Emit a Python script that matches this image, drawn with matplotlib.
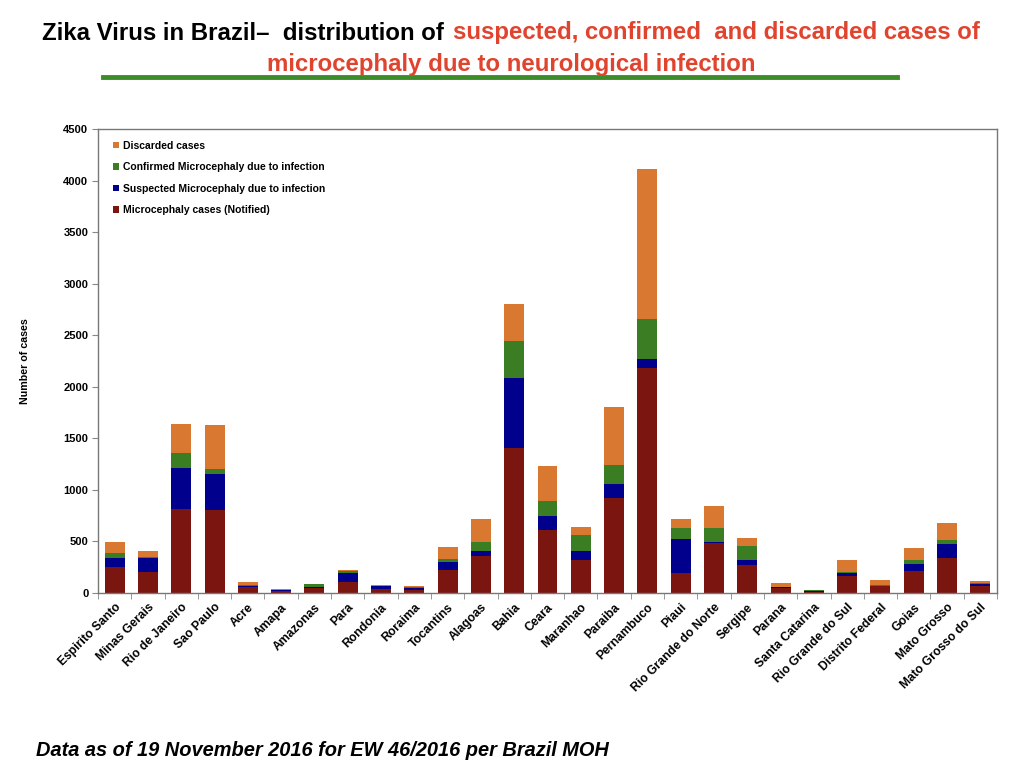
import numpy as np
import matplotlib.pyplot as plt

# states and stacked segment values
states = ['Espirito Santo', 'Minas Gerais', 'Rio de Janeiro', 'Sao Paulo', 'Acre',
          'Amapa', 'Amazonas', 'Para', 'Rondonia', 'Roraima', 'Tocantins', 'Alagoas',
          'Bahia', 'Ceara', 'Maranhao', 'Paraiba', 'Pernambuco', 'Piaui',
          'Rio Grande do Norte', 'Sergipe', 'Parana', 'Santa Catarina',
          'Rio Grande do Sul', 'Distrito Federal', 'Goias', 'Mato Grosso',
          'Mato Grosso do Sul']

notified = [255, 207, 818, 808, 55, 16, 45, 107, 42, 29, 223, 356, 1406, 614, 320,
            925, 2182, 191, 482, 272, 48, 13, 162, 65, 213, 336, 68]
suspected = [81, 129, 398, 343, 16, 13, 13, 90, 23, 19, 81, 54, 676, 130, 84,
             132, 84, 333, 8, 51, 7, 6, 35, 6, 65, 136, 16]
confirmed = [49, 10, 145, 55, 7, 3, 25, 13, 6, 7, 26, 81, 359, 152, 155,
             188, 395, 106, 142, 130, 6, 7, 10, 10, 42, 45, 16]
discarded = [113, 65, 281, 420, 32, 7, 7, 13, 7, 10, 116, 223, 365, 339, 84,
             559, 1455, 84, 207, 84, 39, 6, 116, 48, 120, 162, 20]

series = [('Microcephaly cases (Notified)', notified, '#7a150f'),
          ('Suspected Microcephaly due to infection', suspected, '#00008c'),
          ('Confirmed Microcephaly due to infection', confirmed, '#3b7d23'),
          ('Discarded cases', discarded, '#d97830')]

plt.rcParams['font.family'] = ['Liberation Sans', 'DejaVu Sans']

fig = plt.figure(figsize=(10.24, 7.68), dpi=100)
ax = fig.add_axes([98/1024, 1-593/768, 899/1024, 464/768])

x = np.arange(len(states))
bottom = np.zeros(len(states))
handles = []
for name, vals, col in series:
    b = ax.bar(x, vals, 0.6, bottom=bottom, color=col, label=name)
    bottom += np.array(vals)
    handles.append(b)

ax.set_xlim(-0.5, len(states) - 0.5)
ax.set_ylim(0, 4500)
ax.set_yticks(np.arange(0, 4501, 500))
ax.set_yticklabels([str(v) for v in range(0, 4501, 500)], fontsize=8, fontweight='bold')
ax.set_xticks(x)
ax.set_xticklabels(states, rotation=45, ha='right', rotation_mode='anchor',
                   fontsize=8.7, fontweight='bold')
ax.set_xticks(np.arange(-0.5, len(states), 1), minor=True)
ax.tick_params(axis='x', which='major', length=0, pad=6)
ax.tick_params(axis='x', which='minor', length=4, color='#888888', direction='out')
ax.tick_params(axis='y', length=4, color='#888888', direction='out', pad=3)
for s in ax.spines.values():
    s.set_color('#777777')
    s.set_linewidth(1)
ax.set_ylabel('Number of cases', fontsize=7.7, fontweight='bold', labelpad=24)

leg = ax.legend(handles[::-1], [s[0] for s in series][::-1], loc='upper left',
                bbox_to_anchor=(0.006, 0.995), frameon=False, fontsize=7.5,
                handlelength=0.6, handleheight=0.6, handletextpad=0.4,
                labelspacing=1.1)
for t in leg.get_texts():
    t.set_fontweight('bold')

# title
fig.text(42/1024, 1-33/768, 'Zika Virus in Brazil\u2013  distribution of', fontsize=17.3,
         fontweight='bold', ha='left', va='center', color='black')
fig.text(453/1024, 1-33/768, 'suspected, confirmed  and discarded cases of', fontsize=17.3,
         fontweight='bold', ha='left', va='center', color='#e0442f')
fig.text(511/1024, 1-64/768, 'microcephaly due to neurological infection', fontsize=17.3,
         fontweight='bold', ha='center', va='center', color='#e0442f')
fig.add_artist(plt.Line2D([103/1024, 897/1024], [1-77/768, 1-77/768],
                          color='#3c8c2a', linewidth=3.5, transform=fig.transFigure))

fig.text(36/1024, 1-750/768, 'Data as of 19 November 2016 for EW 46/2016 per Brazil MOH',
         fontsize=14.4, fontweight='bold', style='italic', ha='left', va='center')

fig.savefig('out.png', dpi=100)
